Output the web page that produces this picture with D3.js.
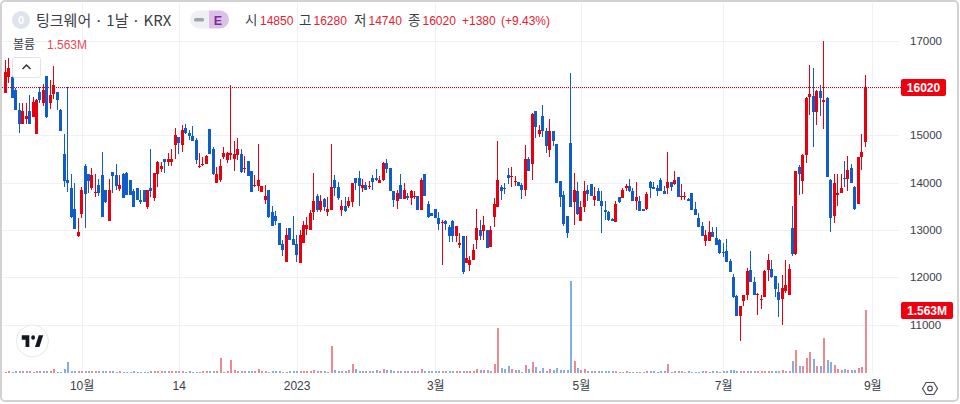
<!DOCTYPE html>
<html>
<head>
<meta charset="utf-8">
<script src="https://cdn.jsdelivr.net/npm/d3@7"></script>
<style>
  html, body { margin: 0; padding: 0; background: #fff; }
  svg { display: block; }
  text { font-family: "Liberation Sans", "Noto Sans CJK KR", sans-serif; }
  .kr { font-family: "Noto Sans CJK KR", sans-serif; }
</style>
</head>
<body>
<script>
// daily candles, oldest first
var opens = [
  15890,16230,16230,15950,15540,15240,15340,15510,15390,15030,
  15910,15680,16250,15670,15880,15910,15540,14600,14050,13890,
  13440,12870,13330,14350,14190,13880,13770,13940,14150,13840,
  13190,14230,14160,13870,14190,14200,14050,13820,13890,13640,
  13840,13490,13890,13670,14180,14280,14500,14430,14430,14790,
  14960,14790,15150,15050,14990,14900,14320,14370,14390,15140,
  14700,13990,14060,14530,14470,14580,14490,14580,14610,14300,
  14460,14250,13930,13930,13790,13640,13850,13370,13300,13140,
  12710,12330,13040,12810,12710,12290,12730,13020,12990,13370,
  13710,13420,13660,13380,13420,14060,13910,13420,13510,13510,
  13590,14100,14100,13890,13950,13900,14090,14100,14000,14050,
  14420,14310,13810,13600,13950,13660,13710,13670,13710,13720,
  13410,14180,13550,13350,13440,13250,13150,13180,13070,13180,
  12870,12690,12860,12290,12250,12370,12780,12990,12970,13000,
  12630,13280,13490,13900,13890,14160,14130,14020,14010,13940,
  13850,14500,14390,15510,15030,15410,15090,14690,15090,14820,
  14030,13730,13300,14840,13580,13820,13190,13480,13850,13970,
  13630,13830,13610,13420,13380,13220,13160,13690,13680,13890,
  13920,13820,13610,13610,13440,13430,14010,13900,13890,14060,
  13830,13890,14010,13970,14110,13690,13690,13650,13770,13430,
  13250,13080,12770,12770,12960,12820,12790,12530,12550,12340,
  12000,11610,11170,11490,11620,12160,11900,11640,11520,11590,
  12160,12180,12020,11690,11530,11700,11630,13030,12490,14330,
  14040,14590,15810,15830,15490,15930,15710,15790,14060,13290,
  13730,13770,14090,14070,14310,13910,13550,14530,14850
];
var highs = [
  16580,16620,16410,15990,15670,15690,15670,15840,15800,15770,
  16020,16080,16250,16160,16460,15910,15560,15030,16010,14190,
  14000,13240,13910,14400,14190,14300,14190,14070,14640,13840,
  14080,14230,14400,14160,14200,14220,14050,13870,13890,13840,
  13840,13850,14700,14200,14450,14440,14500,14630,14700,15150,
  14960,15210,15240,15100,15200,14950,14630,14540,14580,15140,
  14740,14330,14490,14740,14650,16060,14880,14950,14710,14560,
  14460,14250,14160,14820,13920,13950,13850,13510,13390,13140,
  12790,13040,13040,13300,12900,13000,13180,13280,13410,14200,
  13760,13740,13670,13690,14820,14160,14020,13620,13690,13690,
  14000,14100,14240,14080,14020,14040,14160,14290,14130,14440,
  14490,14310,13810,13850,14180,13990,13780,13850,13820,13720,
  14090,14180,13600,13350,13440,13370,13200,13200,13110,13200,
  13090,12930,12860,12870,12440,12710,13440,13210,13300,13000,
  13090,13670,14880,13950,14000,14300,14320,14140,14020,13990,
  14800,14540,15460,15510,15220,15640,15150,15340,15090,14820,
  14030,13810,13300,16310,14200,14020,13600,14040,13950,13970,
  13900,13880,13810,13610,13390,13250,13610,13700,13880,13970,
  14070,13880,14010,13720,13450,13790,14030,14020,13950,14090,
  13920,14640,14020,14250,14120,13970,13790,13670,13770,13580,
  13350,13170,13000,13190,13060,13070,12800,12720,12800,12380,
  12070,11630,11400,11630,12190,12560,12000,11660,11630,12160,
  12490,12370,12030,11880,12050,12370,12270,13500,14240,14370,
  14600,15810,16490,16420,15950,16070,17000,15810,14070,14170,
  14190,14190,14450,14560,14400,13920,14540,15030,16280
];
var lows = [
  15890,16100,15790,15530,15050,15240,15240,15240,15390,15030,
  15670,15610,15370,15560,15770,15530,15090,13910,13800,13260,
  13020,12850,13240,13040,13770,13850,13700,13710,13270,13560,
  13190,13770,13840,13820,13680,13740,13730,13490,13640,13540,
  13590,13450,13700,13610,13910,14230,14200,14340,14340,14500,
  14600,14650,15020,14890,14870,14400,14300,14340,14390,14610,
  14150,13990,14010,14490,14410,14470,14250,14470,14210,14210,
  14140,13790,13900,13810,13790,13550,13250,13090,13110,12680,
  12450,12330,12790,12680,12310,12290,12720,12900,12990,13210,
  13370,13370,13390,13300,13410,13710,13620,13300,13370,13460,
  13490,13850,13510,13790,13850,13860,13850,14040,14000,14030,
  14200,13810,13490,13450,13660,13660,13620,13530,13650,13410,
  13410,13710,13260,13300,13240,13000,12260,13000,12750,12750,
  12750,12610,12070,12290,12120,12370,12600,12790,12790,12610,
  12630,13050,13490,13620,13760,13970,13900,13920,13930,13660,
  13710,14250,14060,14940,14970,14970,14630,14530,14770,14000,
  13490,13090,12820,13490,13110,13320,13190,13370,13600,13720,
  13510,13600,12940,13200,13190,13180,13160,13560,13680,13810,
  13790,13600,13420,13400,13390,13420,13680,13860,13710,13830,
  13750,13760,13810,13950,13690,13630,13630,13600,13410,13320,
  13070,12870,12650,12770,12840,12690,12490,12420,12330,12100,
  11570,11170,10650,11400,11510,11890,11630,11210,11330,11590,
  11910,11980,11580,11160,11000,11660,11630,12440,12460,13740,
  13760,14420,15430,14750,15210,15400,15140,14110,12960,13150,
  13500,13770,13910,13830,13990,13420,13550,14260,14740
];
var closes = [
  16340,16410,15790,15530,15240,15510,15400,15240,15700,15750,
  15740,15950,15390,15850,16050,15740,15090,14030,13990,13270,
  13020,12950,13840,13750,14030,14150,13800,13780,13270,13590,
  13840,14130,13930,13940,13680,13740,13730,13490,13640,13590,
  13590,13840,13820,14200,14440,14340,14430,14500,14500,15000,
  14840,15100,15050,14980,14870,14470,14340,14400,14560,14610,
  14180,14190,14340,14630,14630,14630,14600,14700,14230,14310,
  14140,13790,13940,14060,13920,13710,13270,13090,13190,12680,
  12580,12900,12790,12680,12470,12900,13100,13100,13350,13610,
  13420,13610,13480,13440,13900,13880,13670,13510,13400,13610,
  13990,14000,13920,13950,13850,13920,14020,14060,14060,14420,
  14280,13810,13630,13780,13660,13850,13670,13830,13720,13420,
  14060,13710,13280,13300,13240,13130,13170,13120,12870,12870,
  13090,12720,12110,12400,12370,12570,13040,12880,13100,12610,
  12990,13550,14060,13830,13870,14100,14140,14040,13930,13850,
  14500,14250,15450,15180,15100,15080,14770,15080,14880,14000,
  13700,13130,12940,13490,13850,13340,13480,13820,13750,13720,
  13720,13600,13510,13370,13210,13180,13540,13580,13850,13920,
  13810,13600,13700,13400,13390,13750,13890,13870,13830,13830,
  13750,14010,13910,14050,13690,13710,13710,13600,13420,13320,
  13070,12870,12890,12960,12840,12690,12520,12510,12330,12100,
  11590,11170,11400,11630,12130,11890,11630,11650,11540,12140,
  12370,12000,11760,11510,11770,11830,12180,12490,14240,14190,
  14590,15790,15860,15490,15930,15790,15740,14110,13240,14000,
  13770,13880,14080,14260,13990,13430,14530,14640,16020
];
// volume in millions
var volumes = [
  0.03,0.04,0.03,0.06,0.04,0.04,0.04,0.04,0.03,0.04,
  0.04,0.04,0.04,0.04,0.09,0.03,0.03,0.09,0.27,0.06,
  0.05,0.04,0.04,0.04,0.06,0.04,0.05,0.04,0.04,0.06,
  0.04,0.05,0.03,0.04,0.03,0.02,0.02,0.04,0.03,0.03,
  0.03,0.03,0.04,0.06,0.05,0.04,0.04,0.04,0.05,0.06,
  0.04,0.04,0.03,0.04,0.03,0.03,0.03,0.04,0.04,0.06,
  0.06,0.04,0.38,0.03,0.05,0.33,0.08,0.05,0.04,0.04,
  0.04,0.04,0.04,0.09,0.05,0.04,0.03,0.05,0.05,0.04,
  0.03,0.03,0.04,0.04,0.04,0.05,0.05,0.05,0.05,0.08,
  0.05,0.05,0.04,0.03,0.68,0.07,0.05,0.05,0.05,0.08,
  0.22,0.09,0.06,0.05,0.05,0.05,0.05,0.07,0.05,0.09,
  0.08,0.08,0.05,0.05,0.05,0.05,0.06,0.05,0.05,0.05,
  0.09,0.05,0.05,0.05,0.04,0.04,0.06,0.05,0.04,0.05,
  0.05,0.05,0.05,0.05,0.05,0.05,0.09,0.07,0.07,0.07,
  0.05,0.22,1.11,0.12,0.10,0.17,0.09,0.07,0.07,0.03,
  0.19,0.10,0.27,0.15,0.04,0.12,0.05,0.09,0.07,0.12,
  0.08,0.07,0.07,2.28,0.29,0.12,0.07,0.09,0.05,0.05,
  0.04,0.04,0.04,0.04,0.04,0.04,0.04,0.03,0.03,0.04,
  0.03,0.03,0.03,0.03,0.03,0.04,0.04,0.04,0.03,0.04,
  0.04,0.22,0.03,0.06,0.04,0.04,0.03,0.04,0.03,0.03,
  0.03,0.04,0.04,0.03,0.04,0.05,0.03,0.04,0.04,0.07,
  0.08,0.06,0.04,0.05,0.04,0.04,0.05,0.05,0.04,0.05,
  0.06,0.05,0.05,0.05,0.08,0.05,0.04,0.29,0.57,0.18,
  0.18,0.38,0.52,0.35,0.18,0.18,0.86,0.33,0.28,0.20,
  0.10,0.08,0.10,0.08,0.08,0.08,0.13,0.15,1.563
];

var priceTicks = [11000,12000,13000,14000,15000,16000,17000];
var timeTicks = [22,50,84,124,166,207,250];
var timeLabels = ['10월','14','2023','3월','5월','7월','9월'];
var lastPrice = 16020;
var lastVolume = 1.563;
var legendItems = [['시','14850'],['고','16280'],['저','14740'],['종','16020']];

var g = {};
g.screen = {'width':960, 'height':404};
g.up = '#e8000f';
g.down = '#0f5ccb';
g.upVol = '#ea8a92';
g.downVol = '#85ade8';
g.grid = '#eff1f5';
g.text = '#3a3e48';

var svg = d3.select('body').append('svg')
  .attr('width', g.screen.width)
  .attr('height', g.screen.height);

var x = d3.scaleLinear().domain([0,248]).range([5.3,865.3]);
var y = d3.scaleLinear().domain([11000,17000]).range([324.5,40.5]);
var yVol = d3.scaleLinear().domain([0,lastVolume]).range([373,310]);
var idx = d3.range(opens.length);

// grid
svg.selectAll('.vgrid').data(timeTicks).enter().append('line')
  .attr('x1', function(d){return Math.round(x(d))+0.5})
  .attr('x2', function(d){return Math.round(x(d))+0.5})
  .attr('y1', 3).attr('y2', 373)
  .attr('stroke', g.grid);
svg.selectAll('.hgrid').data(priceTicks).enter().append('line')
  .attr('x1', 2).attr('x2', 899)
  .attr('y1', function(d){return Math.round(y(d))+0.5})
  .attr('y2', function(d){return Math.round(y(d))+0.5})
  .attr('stroke', g.grid);

// volume
svg.append('g').attr('shape-rendering','crispEdges').selectAll('rect').data(idx).enter().append('rect')
  .attr('x', function(i){return Math.floor(x(i))-0.5})
  .attr('width', 2)
  .attr('y', function(i){return yVol(volumes[i])})
  .attr('height', function(i){return yVol(0)-yVol(volumes[i])})
  .attr('fill', function(i){return closes[i]>=opens[i] ? g.upVol : g.downVol});

// candles
var candles = svg.append('g').attr('shape-rendering','crispEdges');
candles.selectAll('.wick').data(idx).enter().append('rect')
  .attr('x', function(i){return Math.floor(x(i))})
  .attr('width', 1)
  .attr('y', function(i){return y(highs[i])})
  .attr('height', function(i){return y(lows[i])-y(highs[i])})
  .attr('fill', function(i){return closes[i]>=opens[i] ? g.up : g.down});
candles.selectAll('.body').data(idx).enter().append('rect')
  .attr('x', function(i){return Math.floor(x(i))-1})
  .attr('width', 3)
  .attr('y', function(i){return y(Math.max(opens[i],closes[i]))})
  .attr('height', function(i){return Math.max(1, Math.abs(y(opens[i])-y(closes[i])))})
  .attr('fill', function(i){return closes[i]>=opens[i] ? g.up : g.down});

// last price line
svg.append('line')
  .attr('x1', 2).attr('x2', 901)
  .attr('y1', Math.round(y(lastPrice))+0.5).attr('y2', Math.round(y(lastPrice))+0.5)
  .attr('stroke', '#d8000f')
  .attr('shape-rendering', 'crispEdges')
  .attr('stroke-dasharray', '1 1');

// axes, the 16000 label sits under the last price tag so it is left out
var axisTicks = priceTicks.filter(function(d){return Math.abs(d-lastPrice) > 200});
var priceAxis = d3.axisRight(y).tickValues(axisTicks).tickSize(0).tickPadding(11).tickFormat(d3.format('d'));
var yAxis = svg.append('g').attr('transform','translate(899,0)').call(priceAxis);
yAxis.select('.domain').remove();
yAxis.selectAll('text').attr('font-size', 11.5).attr('fill', g.text).style('font-family', '"Liberation Sans", sans-serif');

var timeAxis = d3.axisBottom(x).tickValues(timeTicks).tickSize(0).tickPadding(8)
  .tickFormat(function(d,i){return timeLabels[i]});
var xAxis = svg.append('g').attr('transform','translate(0,373)').call(timeAxis);
xAxis.select('.domain').remove();
xAxis.selectAll('text').attr('font-size', 12).attr('fill', g.text).style('font-family', '"Liberation Sans", "Noto Sans CJK KR", sans-serif');

// price labels
var tag = function(value, top, w, h){
  svg.append('rect').attr('x', 901).attr('y', top).attr('width', w).attr('height', h).attr('rx', 2).attr('fill', '#f0000f');
  svg.append('text').attr('x', 901+w/2).attr('y', top+h/2+4.5).attr('text-anchor','middle')
    .attr('font-size', 12).attr('font-weight', 'bold').attr('fill', '#fff').text(value);
}
tag(lastPrice, 79, 45, 17);
tag(lastVolume+'M', 302, 52, 17);

// header
svg.append('circle').attr('cx', 21).attr('cy', 20).attr('r', 9).attr('fill', '#dfe3ee');
svg.append('text').attr('x', 21).attr('y', 24).attr('text-anchor','middle').attr('font-size', 11).attr('font-weight','bold').attr('fill', '#fff').text('0');
svg.append('text').attr('class','kr').attr('x', 36).attr('y', 26).attr('font-size', 15).attr('fill', '#3a3e48').text('팅크웨어 · 1날 · KRX');

svg.append('path').attr('d','M199 10.5h10v18h-10a9 9 0 0 1 0-18z').attr('fill', '#eef0f5');
svg.append('path').attr('d','M209 10.5h11a9 9 0 0 1 0 18h-11z').attr('fill', '#dcc0e8');
svg.append('rect').attr('x', 194).attr('y', 18).attr('width', 10).attr('height', 3.5).attr('rx', 1.5).attr('fill', '#9ea4b0');
svg.append('text').attr('x', 218).attr('y', 24.5).attr('text-anchor','middle').attr('font-size', 12.5).attr('font-weight','bold').attr('fill', '#7b2d9e').text('E');

var legendX = [245,299,354,408];
var valueX = [260,313.5,368.5,422.5];
legendItems.forEach(function(d,i){
  svg.append('text').attr('class','kr').attr('x', legendX[i]).attr('y', 25).attr('font-size', 13.5).attr('fill', g.text).text(d[0]);
  svg.append('text').attr('x', valueX[i]).attr('y', 25).attr('font-size', 12).attr('fill', '#e8202f').text(d[1]);
});
svg.append('text').attr('x', 462).attr('y', 25).attr('font-size', 12).attr('fill', '#e8202f').text('+1380');
svg.append('text').attr('x', 501).attr('y', 25).attr('font-size', 12).attr('fill', '#e8202f').text('(+9.43%)');

svg.append('text').attr('class','kr').attr('x', 13).attr('y', 49).attr('font-size', 12).attr('fill', g.text).text('볼륨');
svg.append('text').attr('x', 47).attr('y', 49).attr('font-size', 12).attr('fill', '#ea4a5a').text(lastVolume+'M');

// collapse button
svg.append('rect').attr('x', 12.5).attr('y', 57.5).attr('width', 28).attr('height', 20).attr('rx', 2)
  .attr('fill', '#fff').attr('stroke', '#e0e3eb');
svg.append('path').attr('d','M22.5 69l4-4 4 4').attr('fill','none').attr('stroke','#333').attr('stroke-width',1.5);

// logo
svg.append('circle').attr('cx', 32.5).attr('cy', 341).attr('r', 16).attr('fill', '#fff').attr('stroke', '#e8e8e8');
var logo = svg.append('g').attr('transform','translate(20.5,330.5) scale(0.63,0.78)').attr('fill','#131722');
logo.append('path').attr('d','M14 6H2v6h6v9h6V6zm16 15h-7l6-15h7l-6 15z');
logo.append('circle').attr('cx', 20).attr('cy', 9).attr('r', 3);

// settings icon
svg.append('path').attr('d','M922.5 388.5l3.7-6h7.6l3.7 6-3.7 6h-7.6z').attr('fill','none').attr('stroke','#4a4e58').attr('stroke-width',1.2);
svg.append('circle').attr('cx', 930).attr('cy', 388.5).attr('r', 2.3).attr('fill','none').attr('stroke','#4a4e58').attr('stroke-width',1.2);

// frame
svg.append('rect').attr('x', 1).attr('y', 1).attr('width', 957).attr('height', 400).attr('rx', 4)
  .attr('fill','none').attr('stroke','#d2d2d2').attr('stroke-width',2);
</script>
</body>
</html>
